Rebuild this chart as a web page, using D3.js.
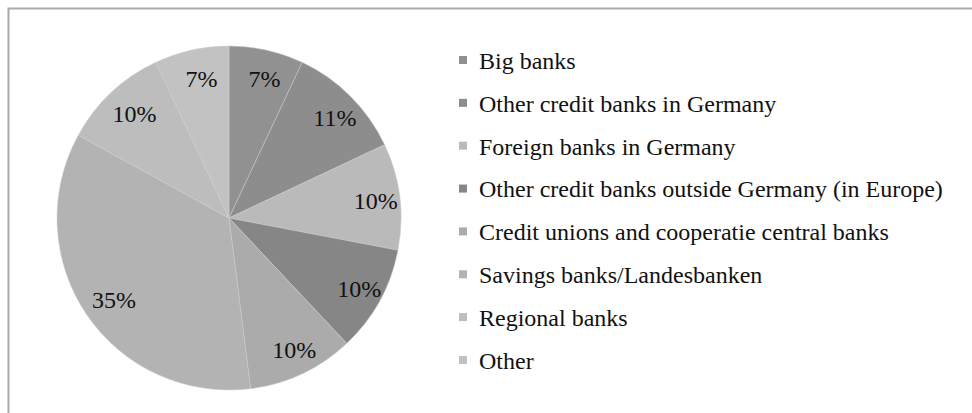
<!DOCTYPE html>
<html>
<head>
<meta charset="utf-8">
<script src="https://cdn.jsdelivr.net/npm/d3@7"></script>
<style>
  html, body { margin: 0; padding: 0; background: #fff; }
  svg { display: block; }
</style>
</head>
<body>
<svg id="chart" width="972" height="413"></svg>
<script>
// Market share by banking group (per cent)
const categories = [
  "Big banks",
  "Other credit banks in Germany",
  "Foreign banks in Germany",
  "Other credit banks outside Germany (in Europe)",
  "Credit unions and cooperatie central banks",
  "Savings banks/Landesbanken",
  "Regional banks",
  "Other"
];
const shares = [7, 11, 10, 10, 10, 35, 10, 7];
const sliceColors = ["#919191", "#8d8d8d", "#bababa", "#868686", "#ababab", "#b3b3b3", "#bdbdbd", "#c2c2c2"];

const svg = d3.select("#chart");
const W = 972, H = 413;
const serif = '"Liberation Serif", "Times New Roman", Times, serif';

// frame (top and left edges)
svg.append("path")
  .attr("d", `M8.5,${H} L8.5,8.5 L${W},8.5`)
  .attr("fill", "none")
  .attr("stroke", "#a9a9a9")
  .attr("stroke-width", 2);

const cx = 229, cy = 218, R = 172;
const color = d3.scaleOrdinal().domain(categories).range(sliceColors);

const pie = d3.pie().sort(null).value(d => d.v);
const data = categories.map((c, i) => ({ c, v: shares[i] }));
const arcs = pie(data);

const arc = d3.arc().innerRadius(0).outerRadius(R);
const labelArc = d3.arc().innerRadius(144).outerRadius(144);

const g = svg.append("g").attr("transform", `translate(${cx},${cy})`);

g.selectAll("path.slice")
  .data(arcs)
  .join("path")
  .attr("class", "slice")
  .attr("d", arc)
  .attr("fill", d => color(d.data.c))
  .attr("stroke", "#cccccc")
  .attr("stroke-width", 0.5);

// percentage labels, nudged slightly right of the centroid
g.selectAll("text.val")
  .data(arcs)
  .join("text")
  .attr("class", "val")
  .attr("transform", d => {
    const [x, y] = labelArc.centroid(d);
    return `translate(${x + 4},${y + 1})`;
  })
  .attr("text-anchor", "middle")
  .attr("dy", "0.35em")
  .attr("font-size", 24)
  .style("font-family", serif)
  .attr("fill", "#111")
  .text(d => d3.format("d")(d.data.v) + "%");

// legend
const legendY = d3.scalePoint().domain(categories).range([61, 361]);
const lg = svg.append("g");
const rows = lg.selectAll("g.row")
  .data(categories)
  .join("g")
  .attr("class", "row")
  .attr("transform", c => `translate(0,${legendY(c)})`);

rows.append("rect")
  .attr("x", 459)
  .attr("y", -5)
  .attr("width", 8)
  .attr("height", 8)
  .attr("fill", c => color(c));

rows.append("text")
  .attr("x", 479)
  .attr("dy", "0.33em")
  .attr("font-size", 24)
  .style("font-family", serif)
  .attr("fill", "#111")
  .text(c => c);
</script>
</body>
</html>
